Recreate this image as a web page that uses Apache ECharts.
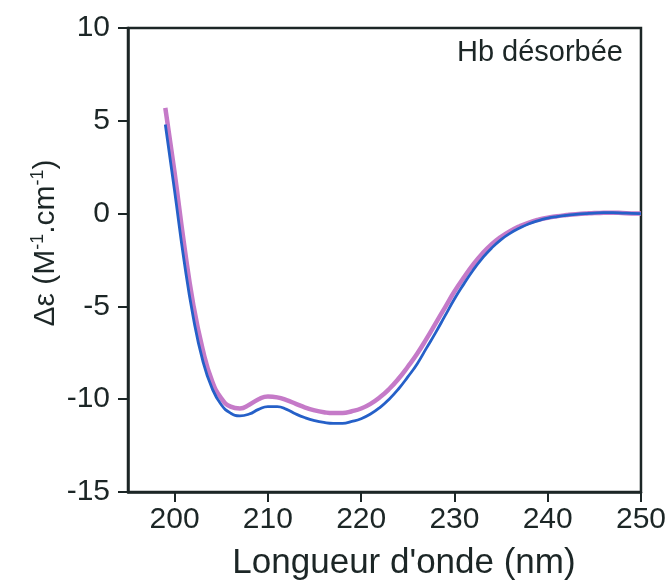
<!DOCTYPE html>
<html>
<head>
<meta charset="utf-8">
<script src="https://cdn.jsdelivr.net/npm/echarts@6/dist/echarts.min.js"></script>
<style>
  html, body { margin: 0; padding: 0; background: #fff; }
  #main { width: 669px; height: 582px; }
</style>
</head>
<body>
<div id="main"></div>
<script>
// longueur d'onde (nm)
var wavelength = [199,200,201,202,203,204,205,206,207,208,209,210,211,212,213,214,215,216,217,218,219,220,
  221,222,223,224,225,226,227,228,229,230,231,232,233,234,235,236,237,238,239,240,241,242,243,244,245,246,247,248,249,250];
// courbe rose
var pinkVals = [5.7,2.2,-1.6,-4.9,-7.3,-9.0,-9.95,-10.4,-10.5,-10.3,-10.0,-9.85,-9.9,-10.05,-10.25,-10.45,-10.6,-10.7,-10.75,-10.75,-10.65,-10.5,
  -10.25,-9.9,-9.45,-8.9,-8.25,-7.55,-6.75,-5.9,-5.05,-4.2,-3.45,-2.75,-2.15,-1.65,-1.25,-0.93,-0.68,-0.48,-0.33,-0.22,-0.14,-0.08,-0.03,0.0,0.03,0.04,0.05,0.03,0.01,0.0];
// courbe bleue
var blueVals = [4.8,1.2,-2.5,-5.6,-7.9,-9.4,-10.3,-10.75,-10.9,-10.8,-10.55,-10.4,-10.4,-10.55,-10.8,-11.0,-11.15,-11.25,-11.3,-11.3,-11.2,-11.05,
  -10.8,-10.45,-10.0,-9.45,-8.8,-8.1,-7.25,-6.4,-5.5,-4.6,-3.8,-3.05,-2.4,-1.85,-1.4,-1.05,-0.78,-0.55,-0.38,-0.25,-0.16,-0.09,-0.04,0.0,0.03,0.05,0.05,0.03,0.01,0.0];
var xTicks = [200,210,220,230,240,250];

var toPairs = function (xs, ys) {
  var out = [];
  for (var i = 0; i < xs.length; i++) out.push([xs[i], ys[i]]);
  return out;
};

var ink = '#1c2626';
var font = '"Liberation Sans", Arial, sans-serif';

var chart = echarts.init(document.getElementById('main'));
chart.setOption({
  animation: false,
  title: {
    text: 'Hb désorbée',
    right: 46,
    top: 38,
    padding: 0,
    textStyle: { color: ink, fontSize: 29, fontWeight: 'normal', fontFamily: font }
  },
  grid: {
    left: 128, right: 27, top: 28, bottom: 90,
    show: true, borderColor: ink, borderWidth: 2.5, backgroundColor: 'transparent'
  },
  xAxis: {
    type: 'value',
    min: 195, max: 250,
    axisLine: { onZero: false, lineStyle: { color: ink, width: 2.5 } },
    axisTick: { customValues: xTicks, length: 10, lineStyle: { color: ink, width: 2 } },
    axisLabel: { customValues: xTicks, margin: 13, color: ink, fontSize: 30, fontFamily: font },
    splitLine: { show: false }
  },
  yAxis: {
    type: 'value',
    min: -15, max: 10, interval: 5,
    axisLine: { onZero: false, lineStyle: { color: ink, width: 2.5 } },
    axisTick: { length: 10, lineStyle: { color: ink, width: 2 } },
    axisLabel: { margin: 18, color: ink, fontSize: 30, fontFamily: font },
    splitLine: { show: false }
  },
  graphic: [
    {
      type: 'text', x: 404, y: 563,
      style: { text: "Longueur d'onde (nm)", fill: ink, font: '35px ' + font, align: 'center', verticalAlign: 'middle' }
    },
    {
      type: 'text', x: 45, y: 243, rotation: Math.PI / 2,
      style: {
        text: '{a|Δε (M}{s|-1}{a|.cm}{s|-1}{a|)}',
        align: 'center', verticalAlign: 'middle',
        rich: {
          a: { fill: ink, fontSize: 30, fontFamily: font, lineHeight: 32, verticalAlign: 'bottom' },
          s: { fill: ink, fontSize: 18, fontFamily: font, lineHeight: 32, verticalAlign: 'top' }
        }
      }
    }
  ],
  series: [
    {
      type: 'line', name: 'rose', data: toPairs(wavelength, pinkVals),
      smooth: true, showSymbol: false, z: 2,
      lineStyle: { color: '#c57ac8', width: 4.5 }
    },
    {
      type: 'line', name: 'bleu', data: toPairs(wavelength, blueVals),
      smooth: true, showSymbol: false, z: 3,
      lineStyle: { color: '#2560c8', width: 2.8 }
    }
  ]
});
</script>
</body>
</html>
